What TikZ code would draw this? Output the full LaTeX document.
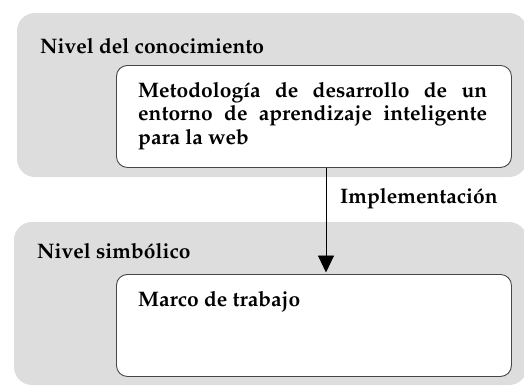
\documentclass[tikz,border=0pt]{standalone}
\usepackage[T1]{fontenc}
\usepackage{mathpazo}
\usetikzlibrary{arrows.meta}
\definecolor{levelgrey}{RGB}{221,221,221}
\definecolor{edgegrey}{RGB}{70,70,70}
\tikzset{
  level/.style={fill=levelgrey,draw=none,rounded corners=18pt},
  inner box/.style={fill=white,draw=edgegrey,line width=0.9pt,rounded corners=11pt},
  txt/.style={inner sep=0pt,font=\fontsize{21}{23.5}\selectfont\bfseries},
  arr/.style={line width=0.9pt,-{Triangle[length=17pt,width=16pt]},shorten >=1.5pt},
}
\begin{document}
\begin{tikzpicture}[x=1pt,y=1pt]
\useasboundingbox (0,0) rectangle (524,-386);
% level boxes
\path[level] (17,-13) rectangle (527,-177);
\path[level] (14,-222) rectangle (527,-385);
\node[txt,anchor=base west] (l1) at (40,-53) {Nivel del conocimiento};
\node[txt,anchor=base west] (l2) at (37,-258) {Nivel simbólico};
% inner boxes
\node[inner box,anchor=north west,minimum width=395pt,minimum height=102pt] (tw) at (116,-65) {};
\node[inner box,anchor=north west,minimum width=395pt,minimum height=102pt] (bw) at (116,-274) {};
\node[txt,anchor=north west,text width=349pt,align=justify] (t1) at (138,-82)
  {Metodología de desarrollo de un entorno de aprendizaje inteligente para la web};
\node[txt,anchor=base west] (t2) at (138,-306) {Marco de trabajo};
% connector
\coordinate (ax) at (326,0);
\draw[arr] (tw.south -| ax) -- (bw.north -| ax);
\node[txt,anchor=base west] (imp) at (340,-203) {Implementación};
\end{tikzpicture}
\end{document}
